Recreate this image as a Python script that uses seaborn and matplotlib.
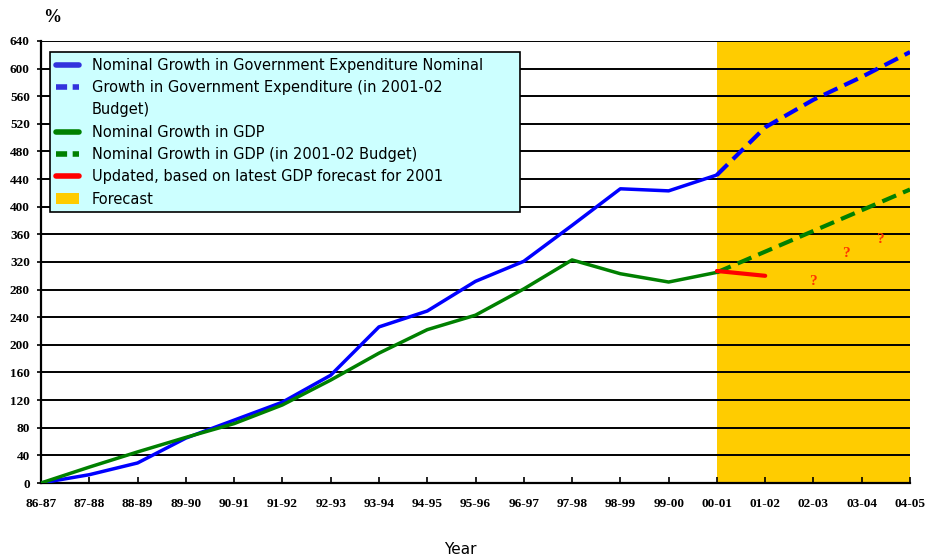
import matplotlib
matplotlib.use('Agg')
import matplotlib.pyplot as plt
import seaborn as sns
import pandas as pd
from matplotlib.lines import Line2D
from matplotlib.patches import Patch

# Data
years = ['86-87', '87-88', '88-89', '89-90', '90-91', '91-92', '92-93', '93-94', '94-95',
         '95-96', '96-97', '97-98', '98-99', '99-00', '00-01', '01-02', '02-03', '03-04', '04-05']

exp_actual = [0, 12, 29, 65, 91, 117, 156, 226, 249, 292, 321, 373, 426, 423, 446]
exp_budget = [446, 515, 555, 588, 624]            # 00-01 .. 04-05
gdp_actual = [0, 23, 45, 66, 86, 113, 149, 188, 222, 243, 281, 323, 303, 291, 305]
gdp_budget = [305, 335, 365, 395, 425]            # 00-01 .. 04-05
gdp_updated = [307, 300]                          # 00-01 .. 01-02

question_x = [15.98, 16.68, 17.38]
question_y = [292, 332, 352]

x_idx = list(range(len(years)))

df_exp = pd.DataFrame({'x': x_idx[:15], 'y': exp_actual})
df_exp_b = pd.DataFrame({'x': x_idx[14:], 'y': exp_budget})
df_gdp = pd.DataFrame({'x': x_idx[:15], 'y': gdp_actual})
df_gdp_b = pd.DataFrame({'x': x_idx[14:], 'y': gdp_budget})
df_upd = pd.DataFrame({'x': x_idx[14:16], 'y': gdp_updated})

sns.set_style('white')
plt.rcParams.update({'text.color': 'black', 'xtick.color': 'black', 'ytick.color': 'black'})

fig = plt.figure(figsize=(9.27, 5.6), dpi=100)
ax = fig.add_axes([0.0442, 0.1375, 0.9375, 0.7893])

# forecast region
ax.axvspan(14, 18, color='#FFCC00', zorder=0, lw=0)

# gridlines
for v in range(40, 641, 40):
    ax.axhline(v, color='black', lw=1.4, zorder=1)

blue = '#0000FF'
green = '#008000'
red = '#FF0000'

sns.lineplot(data=df_exp, x='x', y='y', color=blue, lw=2.5, ax=ax, zorder=3)
sns.lineplot(data=df_exp_b, x='x', y='y', color=blue, lw=3.0, ax=ax, zorder=3)
ax.lines[-1].set_dashes([3.6, 1.8])
sns.lineplot(data=df_gdp, x='x', y='y', color=green, lw=2.5, ax=ax, zorder=3)
sns.lineplot(data=df_gdp_b, x='x', y='y', color=green, lw=3.0, ax=ax, zorder=3)
ax.lines[-1].set_dashes([3.6, 1.8])
sns.lineplot(data=df_upd, x='x', y='y', color=red, lw=3.0, ax=ax, zorder=4)

for qx, qy in zip(question_x, question_y):
    ax.text(qx, qy, '?', color='#FF3300', fontsize=11, fontweight='bold',
            family='Liberation Serif', ha='center', va='center', zorder=5)

ax.set_xlim(0, 18)
ax.set_ylim(0, 640)
ax.set_xticks(x_idx)
ax.set_xticklabels(years)
ax.set_yticks(range(0, 641, 40))
for lab in ax.get_xticklabels() + ax.get_yticklabels():
    lab.set_family('Liberation Serif')
    lab.set_fontweight('bold')
    lab.set_fontsize(9.5)
    lab.set_color('black')
ax.tick_params(axis='x', direction='in', length=4, width=1.2, pad=11, bottom=True)
ax.tick_params(axis='y', direction='out', length=3, width=1.2, pad=5, left=True)
ax.set_xlabel('')
ax.set_ylabel('')

for s in ['top', 'right']:
    ax.spines[s].set_visible(False)
for s in ['left', 'bottom']:
    ax.spines[s].set_color('black')
    ax.spines[s].set_linewidth(1.6)

fig.text(0.047, 0.968, '%', fontsize=13, fontweight='bold', family='Liberation Serif',
         ha='left', va='center', color='black')
fig.text(0.497, 0.018, 'Year', fontsize=11, family='DejaVu Sans', ha='center', va='center',
         color='black')

handles = [
    Line2D([], [], color='#3333DD', lw=4),
    Line2D([], [], color='#3333DD', lw=4, dashes=[2.0, 1.0]),
    Line2D([], [], color='none', lw=0),
    Line2D([], [], color=green, lw=4),
    Line2D([], [], color=green, lw=4, dashes=[2.0, 1.0]),
    Line2D([], [], color=red, lw=4),
    Patch(facecolor='#FFCC00', edgecolor='none'),
]
labels = [
    'Nominal Growth in Government Expenditure Nominal',
    'Growth in Government Expenditure (in 2001-02',
    'Budget)',
    'Nominal Growth in GDP',
    'Nominal Growth in GDP (in 2001-02 Budget)',
    'Updated, based on latest GDP forecast for 2001',
    'Forecast',
]
leg = ax.legend(handles, labels, loc='upper left', bbox_to_anchor=(0.0104, 0.0, 0.541, 0.975),
                mode='expand', frameon=True, fancybox=False, framealpha=1,
                facecolor='#CCFFFF', edgecolor='black',
                prop={'family': 'DejaVu Sans', 'size': 10.5},
                handlelength=1.6, handletextpad=0.85, labelspacing=0.5,
                borderpad=0.4, borderaxespad=0)
leg.get_frame().set_linewidth(1.2)
leg.set_zorder(6)
for t in leg.get_texts():
    t.set_color('black')

fig.savefig('out.png', dpi=100)
